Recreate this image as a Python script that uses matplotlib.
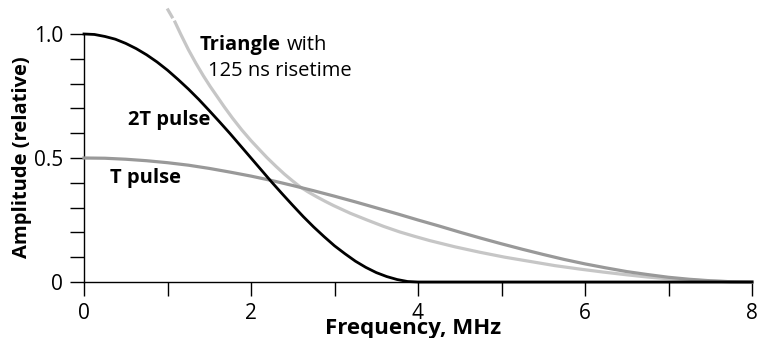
import numpy as np
import matplotlib
matplotlib.use("Agg")
import matplotlib.pyplot as plt

plt.rcParams['font.family'] = ['Open Sans', 'DejaVu Sans']

# 2T pulse spectrum (MHz, relative amplitude)
f_2t = [0, 0.125, 0.25, 0.375, 0.5, 0.625, 0.75, 0.875, 1.0, 1.125, 1.25,
        1.375, 1.5, 1.625, 1.75, 1.875, 2.0, 2.125, 2.25, 2.375, 2.5, 2.625,
        2.75, 2.875, 3.0, 3.125, 3.25, 3.375, 3.5, 3.625, 3.75, 3.875, 4.0, 8.0]
a_2t = [1.0, 0.998, 0.990, 0.979, 0.962, 0.941, 0.916, 0.887, 0.854, 0.817,
        0.778, 0.736, 0.691, 0.645, 0.598, 0.549, 0.500, 0.451, 0.402, 0.355,
        0.309, 0.264, 0.222, 0.183, 0.146, 0.114, 0.084, 0.059, 0.038, 0.022,
        0.010, 0.002, 0.0, 0.0]

# T pulse spectrum
f_t = [0, 0.25, 0.5, 0.75, 1.0, 1.25, 1.5, 1.75, 2.0, 2.25, 2.5, 2.75, 3.0,
       3.25, 3.5, 3.75, 4.0, 4.25, 4.5, 4.75, 5.0, 5.25, 5.5, 5.75, 6.0, 6.25,
       6.5, 6.75, 7.0, 7.25, 7.5, 7.75, 8.0]
a_t = [0.500, 0.499, 0.495, 0.489, 0.481, 0.471, 0.458, 0.443, 0.427, 0.409,
       0.389, 0.368, 0.346, 0.323, 0.299, 0.275, 0.250, 0.226, 0.201, 0.177,
       0.154, 0.132, 0.111, 0.091, 0.073, 0.057, 0.042, 0.030, 0.019, 0.011,
       0.005, 0.001, 0.0]

# triangle with 125 ns risetime (dashed head above the frame)
f_tri_head = [1.006, 1.054]
a_tri_head = [1.097, 1.069]
f_tri = [1.09, 1.16, 1.25, 1.34, 1.43, 1.51, 1.59, 1.68, 1.78, 1.89, 2.0,
         2.1, 2.19, 2.3, 2.4, 2.5, 2.59, 2.69, 2.79, 2.89, 2.99, 3.19, 3.39,
         3.59, 3.78, 3.96, 4.14, 4.44, 4.74, 5.04, 5.34, 5.64, 5.94, 6.22,
         6.5, 6.75, 7.0, 7.25, 7.5, 7.75, 8.0]
a_tri = [1.048, 0.998, 0.937, 0.882, 0.831, 0.789, 0.750, 0.706, 0.660, 0.613,
         0.570, 0.534, 0.502, 0.466, 0.435, 0.407, 0.383, 0.362, 0.343, 0.325,
         0.308, 0.277, 0.250, 0.224, 0.202, 0.184, 0.167, 0.142, 0.120, 0.100,
         0.083, 0.066, 0.052, 0.040, 0.029, 0.020, 0.013, 0.008, 0.004, 0.001,
         0.0]

x_ticks = [0, 2, 4, 6, 8]
y_ticks = [0, 0.5, 1.0]
y_tick_labels = ['0', '0.5', '1.0']

fig = plt.figure(figsize=(7.59, 3.38), dpi=100)
ax = fig.add_axes([84 / 759, 56 / 338, 668 / 759, 282 / 338])

ax.plot(f_t, a_t, color='#999999', lw=2.3, clip_on=False, zorder=3)
ax.plot(f_tri, a_tri, color='#c6c6c6', lw=2.3, clip_on=False, zorder=2)
ax.plot(f_tri_head, a_tri_head, color='#c6c6c6', lw=2.3, clip_on=False, zorder=2)
ax.plot(f_2t, a_2t, color='black', lw=2.0, clip_on=False, zorder=4)

ax.set_xlim(0, 8)
ax.set_ylim(0, 1.137)
ax.spines['top'].set_visible(False)
ax.spines['right'].set_visible(False)
ax.spines['left'].set_bounds(0, 1.0)
ax.spines['left'].set_linewidth(1.0)
ax.spines['bottom'].set_linewidth(1.0)

ax.set_xticks(x_ticks)
ax.set_xticks([1, 3, 5, 7], minor=True)
ax.set_yticks(y_ticks)
ax.set_yticklabels(y_tick_labels)
ax.set_yticks(np.arange(0, 1.01, 0.1), minor=True)
ax.tick_params(which='both', direction='out', length=10, width=1.0,
               labelsize=15, pad=5)
ax.tick_params(axis='x', which='both', pad=5)

ax.set_xlabel('Frequency, MHz', fontsize=16, fontweight='bold')
ax.xaxis.set_label_coords(0.4925, -0.128)
ax.set_ylabel('Amplitude (relative)', fontsize=14.5, fontweight='bold')
ax.yaxis.set_label_coords(-0.078, 0.443)

ax.text(1.389, 0.956, 'Triangle', fontsize=14.5, fontweight='bold', va='center')
ax.text(2.43, 0.956, 'with', fontsize=14.5, va='center')
ax.text(1.485, 0.851, '125 ns risetime', fontsize=14.5, va='center')
ax.text(0.527, 0.653, '2T pulse', fontsize=14.5, fontweight='bold', va='center')
ax.text(0.311, 0.419, 'T pulse', fontsize=14.5, fontweight='bold', va='center')

fig.savefig('out.png', dpi=100)
